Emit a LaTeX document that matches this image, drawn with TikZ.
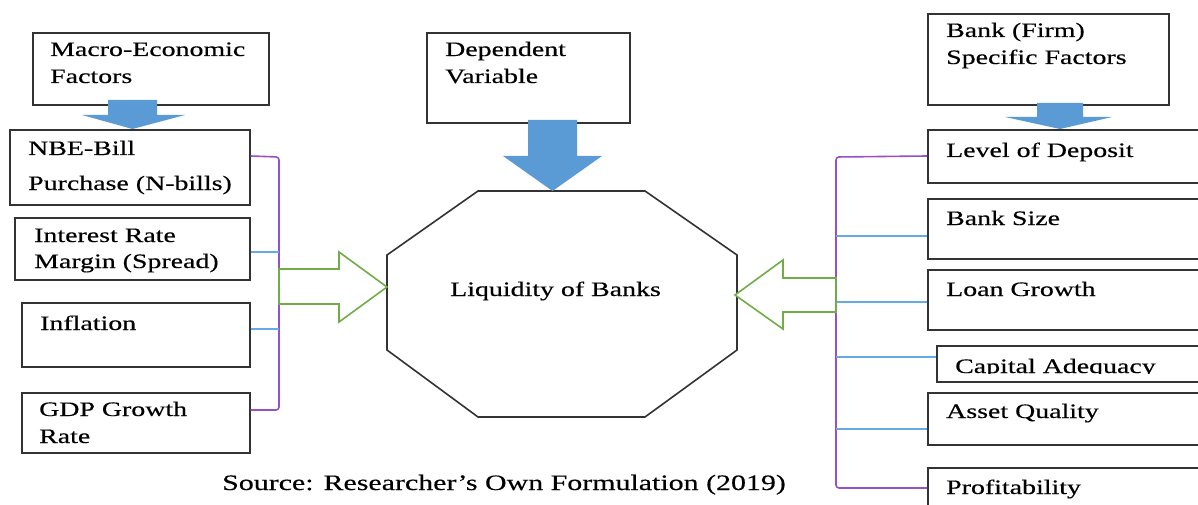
\documentclass[tikz,border=0pt]{standalone}
\usepackage{fontspec}
\setmainfont{Liberation Serif}[FakeStretch=1.36,FakeBold=0.4]
\usetikzlibrary{calc}
\definecolor{bigblue}{RGB}{91,155,213}
\definecolor{thinblue}{RGB}{100,170,230}
\definecolor{arrgreen}{RGB}{112,173,71}
\definecolor{brpurple}{RGB}{150,80,200}
\begin{document}
\begin{tikzpicture}[x=1pt,y=-1pt,
  box/.style={draw=black!80, line width=1.6pt, anchor=north west, inner sep=0pt},
  lbl/.style={anchor=base west, inner sep=0pt, font=\fontsize{20.5}{24}\selectfont},
  blockarrow/.style={fill=bigblue, draw=none},
  hollowarrow/.style={draw=arrgreen, line width=1.6pt, line join=miter, fill=white},
  bracket/.style={draw=brpurple, line width=1.6pt, rounded corners=3pt},
  tie/.style={draw=thinblue, line width=1.2pt}]
\clip (0,0) rectangle (1198,505);
\fill[white] (0,0) rectangle (1198,505);

% ---- left column boxes
\node[box, minimum width=236pt, minimum height=72pt] (macro) at (32,32) {};
\node[box, minimum width=240pt, minimum height=75pt] (nbe) at (9,129) {};
\node[box, minimum width=235pt, minimum height=62pt] (irm) at (14,217) {};
\node[box, minimum width=228pt, minimum height=64pt] (infl) at (21,302) {};
\node[box, minimum width=228pt, minimum height=60pt] (gdp) at (21,392) {};

\node[lbl] (tmacro1) at (50,56) {Macro-Economic};
\node[lbl] (tmacro2) at (50,83) {Factors};
\node[lbl] (tnbe1) at (28,155) {NBE-Bill};
\node[lbl] (tnbe2) at (28,190) {Purchase (N-bills)};
\node[lbl] (tirm1) at (34,242) {Interest Rate};
\node[lbl] (tirm2) at (34,268) {Margin (Spread)};
\node[lbl] (tinfl) at (40,330) {Inflation};
\node[lbl] (tgdp1) at (39,416) {GDP Growth};
\node[lbl] (tgdp2) at (39,443) {Rate};

% ---- middle
\node[box, minimum width=203pt, minimum height=90pt] (dep) at (426,32) {};
\node[lbl] (tdep1) at (445,56) {Dependent};
\node[lbl] (tdep2) at (445,83) {Variable};

\coordinate (o1) at (478,191);
\coordinate (o2) at (645,191);
\coordinate (o3) at (737,255);
\coordinate (o4) at (737,350);
\coordinate (o5) at (645,417);
\coordinate (o6) at (478,417);
\coordinate (o7) at (387,350);
\coordinate (o8) at (387,255);
\draw[black!80, line width=1.6pt, line join=miter] (o1) -- (o2) -- (o3) -- (o4) -- (o5) -- (o6) -- (o7) -- (o8) -- cycle;
\node[lbl] (liq) at (450,296) {Liquidity of Banks};

% ---- right column boxes
\node[box, minimum width=241pt, minimum height=91pt] (firm) at (927,13) {};
\node[box, minimum width=300pt, minimum height=53pt] (lev) at (927,129) {};
\node[box, minimum width=300pt, minimum height=60pt] (size) at (927,198) {};
\node[box, minimum width=300pt, minimum height=60pt] (loan) at (927,269) {};
\node[box, minimum width=300pt, minimum height=36pt] (cap) at (936,345) {};
\node[box, minimum width=300pt, minimum height=52pt] (asset) at (927,392) {};
\node[box, minimum width=300pt, minimum height=60pt] (prof) at (927,467) {};

\node[lbl] (tfirm1) at (946,37) {Bank (Firm)};
\node[lbl] (tfirm2) at (946,64) {Specific Factors};
\node[lbl] (tlev) at (946,157) {Level of Deposit};
\node[lbl] (tsize) at (946,225) {Bank Size};
\node[lbl] (tloan) at (946,296) {Loan Growth};
\begin{scope}
  \clip (937,347) rectangle (1198,373);
  \node[lbl] (tcap) at (955,373) {Capital Adequacy};
\end{scope}
\node[lbl] (tasset) at (946,418) {Asset Quality};
\node[lbl] (tprof) at (946,494) {Profitability};

% ---- block arrows (blue)
\fill[blockarrow] (108,100) -- (157,100) -- (157,115) -- (185,115) -- (132.5,0 |- nbe.north) -- (82,115) -- (108,115) -- cycle;
\fill[blockarrow] (528,120) -- (577,120) -- (577,156) -- (602,156) -- (552.5,0 |- o1) -- (503,156) -- (528,156) -- cycle;
\fill[blockarrow] (1037,103) -- (1083,103) -- (1083,117) -- (1112,117) -- (1060,0 |- lev.north) -- (1005,117) -- (1037,117) -- cycle;

% ---- brackets
\draw[bracket] (nbe.east |- 0,156) -- (279,157) -- (279,410) -- (gdp.east |- 0,410);
\draw[tie] (irm.east |- 0,252) -- (279,252);
\draw[tie] (infl.east |- 0,329) -- (279,329);

\draw[bracket] (lev.west |- 0,156) -- (836,157) -- (836,488) -- (prof.west |- 0,488);
\draw[tie] (836,236) -- (size.west |- 0,236);
\draw[tie] (836,302) -- (loan.west |- 0,302);
\draw[tie] (836,357) -- (cap.west |- 0,357);
\draw[tie] (836,429) -- (asset.west |- 0,429);

% ---- hollow arrows (green)
\draw[hollowarrow] (279,269) -- (339,269) -- (339,252) -- (o8 |- 0,287) -- (339,322) -- (339,304) -- (279,304) -- cycle;
\draw[hollowarrow] (836,278) -- (783,278) -- (783,260) -- (735,295) -- (783,329) -- (783,312) -- (836,312) -- cycle;

% ---- source
\node[anchor=base west, inner sep=0pt, font=\fontsize{22}{26}\selectfont] (src) at (222,490) {Source: Researcher’s Own Formulation (2019)};
\end{tikzpicture}
\end{document}
